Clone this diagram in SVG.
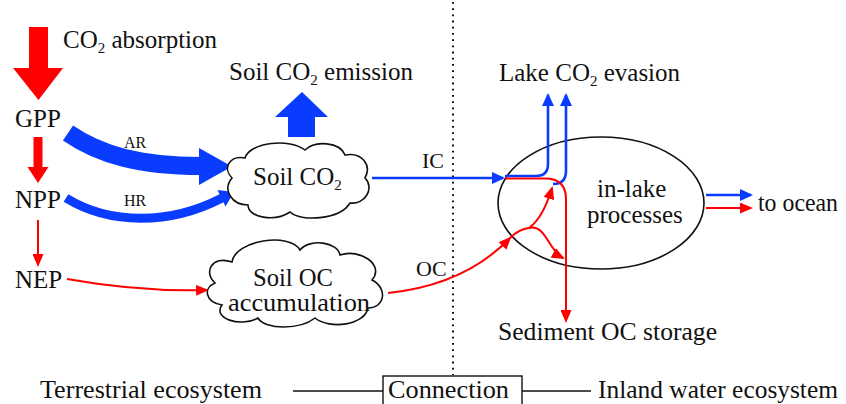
<svg xmlns="http://www.w3.org/2000/svg" width="846" height="404" viewBox="0 0 846 404">
<style>
text{font-family:"Liberation Serif","DejaVu Serif","Noto Serif","Times New Roman",serif;fill:#111;font-size:25px}
.sm{font-size:16px}
.md{font-size:22px}
.cloud{fill:#fff;stroke:#111;stroke-width:1.6}
.red{fill:none;stroke:#ff0000;stroke-width:2}
.blue{fill:none;stroke:#0a3cff;stroke-width:2.6}
.fr{fill:#ff0000}
.fb{fill:#0a3cff}
</style>
<defs>
<marker id="ar" markerUnits="userSpaceOnUse" markerWidth="13" markerHeight="11" refX="11" refY="5.5" orient="auto"><path d="M0,0 L13,5.5 L0,11 z" fill="#ff0000"/></marker>
<marker id="ab" markerUnits="userSpaceOnUse" markerWidth="13" markerHeight="12" refX="11" refY="6" orient="auto"><path d="M0,0 L13,6 L0,12 z" fill="#0a3cff"/></marker>
</defs>
<rect width="846" height="404" fill="#fff"/>

<g id="divider">
<line x1="453" y1="2" x2="453" y2="375" stroke="#111" stroke-width="2" stroke-dasharray="1.8 4.4"/>
</g>

<g id="connectors">
<polygon class="fr" points="29,27 48,27 48,68 63,68 38.5,100 13,68 29,68"/>
<polygon class="fr" points="33.5,137 42.5,137 42.5,167 48.5,167 38,183 27.5,167 33.5,167"/>
<line class="red" x1="38" y1="220" x2="38" y2="265" marker-end="url(#ar)"/>
<path d="M68,133 C100,155 140,166 201,166" fill="none" stroke="#0a3cff" stroke-width="18"/>
<polygon class="fb" points="199,148 232,166.5 199,185"/>
<path d="M66,198 C110,225 170,225 222,198" fill="none" stroke="#0a3cff" stroke-width="9"/>
<polygon class="fb" points="234,192 225.5,206.5 217.5,190"/>
<polygon class="fb" points="288,137 315,137 315,117 328,117 302,92 275,117 288,117"/>
<path class="red" d="M67,279 Q140,292 207,290" marker-end="url(#ar)"/>
<line class="blue" x1="372" y1="178" x2="503" y2="178" stroke-width="3" marker-end="url(#ab)"/>
<path class="red" d="M388,293 Q465,285 510,238" marker-end="url(#ar)"/>
</g>

<g id="soil-co2">
<path class="cloud" d="M232,178 C222,168 230,155 245,158 C250,142 290,138 305,150 C315,140 340,142 345,155 C362,152 372,165 365,178 C375,188 365,205 350,203 C340,220 300,222 290,212 C275,222 248,218 248,205 C232,205 222,190 232,178 Z"/>
<text x="253" y="185">Soil CO<tspan font-size="15" dy="5">2</tspan></text>
</g>

<g id="soil-oc">
<path class="cloud" d="M215,283 C203,272 212,255 232,262 C235,240 290,232 300,250 C310,238 338,242 340,255 C360,248 385,265 372,280 C388,288 385,308 368,308 C365,325 330,330 315,318 C300,330 265,330 258,318 C240,328 212,318 222,305 C205,302 203,288 215,283 Z"/>
<text x="253" y="286" textLength="80" lengthAdjust="spacingAndGlyphs">Soil OC</text>
<text x="228" y="311" textLength="142" lengthAdjust="spacingAndGlyphs">accumulation</text>
</g>

<g id="lake">
<ellipse cx="601" cy="203" rx="103" ry="66" fill="none" stroke="#111" stroke-width="1.6"/>
<text x="597" y="197">in-lake</text>
<text x="587" y="223">processes</text>
</g>

<g id="lake-flows">
<path class="blue" d="M505,176 L536,176 Q548,176 548,164 L548,95" stroke-width="2.4" marker-end="url(#ab)"/>
<path class="blue" d="M553,184 Q566,184 566,171 L566,95" stroke-width="2.4" marker-end="url(#ab)"/>
<path class="red" d="M505,178.5 L545,178.5 Q566,178.5 566,199 L566,321" marker-end="url(#ar)"/>
<path class="red" d="M510,238 Q519,229 529,228"/>
<path class="red" d="M529,228 Q543,218 552,188" marker-end="url(#ar)"/>
<path class="red" d="M529,228 C546,224 548,250 563,258" marker-end="url(#ar)"/>
<line class="blue" x1="706" y1="195" x2="751" y2="195" stroke-width="3" marker-end="url(#ab)"/>
<line class="red" x1="706" y1="208" x2="751" y2="208" marker-end="url(#ar)"/>
</g>

<g id="labels">
<text x="63" y="48">CO<tspan font-size="15" dy="5">2</tspan><tspan dy="-5"> absorption</tspan></text>
<text x="15" y="127">GPP</text>
<text x="15" y="208">NPP</text>
<text x="15" y="288">NEP</text>
<text class="sm" x="124" y="148">AR</text>
<text class="sm" x="124" y="206">HR</text>
<text x="229" y="80">Soil CO<tspan font-size="15" dy="5">2</tspan><tspan dy="-5"> emission</tspan></text>
<text class="md" x="422" y="168">IC</text>
<text class="md" x="416" y="276">OC</text>
<text x="499" y="81">Lake CO<tspan font-size="15" dy="5">2</tspan><tspan dy="-5"> evasion</tspan></text>
<text x="758" y="211" textLength="80" lengthAdjust="spacingAndGlyphs">to ocean</text>
<text x="498" y="340" textLength="219" lengthAdjust="spacingAndGlyphs">Sediment OC storage</text>
</g>

<g id="legend">
<text x="40" y="398" font-size="26" textLength="222" lengthAdjust="spacingAndGlyphs">Terrestrial ecosystem</text>
<line x1="293" y1="391" x2="383" y2="391" stroke="#111" stroke-width="1.4"/>
<rect x="383" y="376" width="139" height="40" fill="none" stroke="#111" stroke-width="1.4"/>
<text x="388" y="398" font-size="26" textLength="121" lengthAdjust="spacingAndGlyphs">Connection</text>
<line x1="522" y1="391" x2="591" y2="391" stroke="#111" stroke-width="1.4"/>
<text x="598" y="398" font-size="26" textLength="240" lengthAdjust="spacingAndGlyphs">Inland water ecosystem</text>
</g>
</svg>
